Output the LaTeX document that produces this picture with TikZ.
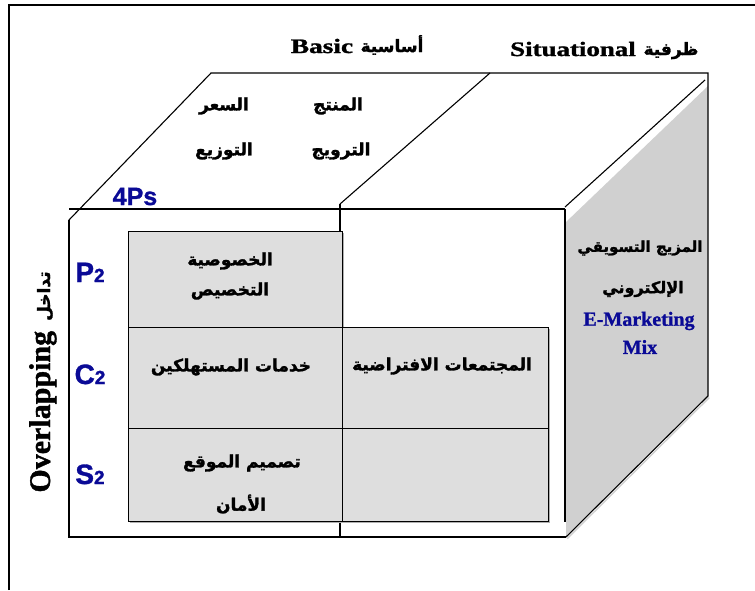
\documentclass[tikz,border=0pt]{standalone}
\usepackage{fontspec}
\usetikzlibrary{calc}
\setmainfont{Liberation Serif}[BoldFeatures={FakeBold=1.2}]
\newfontfamily\labelsans{Liberation Sans}[BoldFeatures={FakeBold=1.2}]
\newfontfamily\arfont[Script=Arabic,BoldFeatures={FakeBold=1.6}]{DejaVu Sans}
\TeXXeTstate=1
\newcommand\artxt[1]{{\arfont\bfseries\beginR #1\endR}}
\newcommand\fsz[1]{\fontsize{#1}{#1}\selectfont}
\definecolor{navyblue}{RGB}{10,10,150}
\definecolor{cellgray}{RGB}{222,222,222}
\definecolor{facegray}{RGB}{208,208,208}
\definecolor{shade}{RGB}{175,175,175}

\begin{document}
\begin{tikzpicture}[x=1pt,y=-1pt,
  frameline/.style={line width=1.6pt},
  edge/.style={line width=1.1pt},
  cellbox/.style={fill=cellgray,draw=black,line width=1.4pt},
  cellshadow/.style={fill=shade,draw=none},
  artext/.style={inner sep=0pt,font=\fsz{17}},
  toplabel/.style={inner sep=0pt,anchor=base,font=\fsz{19.5}\bfseries},
  bluelabel/.style={inner sep=0pt,anchor=base,text=navyblue,font=\labelsans\bfseries},
  mixlabel/.style={inner sep=0pt,text=navyblue,font=\fsz{20}\bfseries}]
\useasboundingbox (0,0) rectangle (755,590);

% outer frame (only its left and top sides fall inside the page)
\coordinate (fTL) at (9,5);
\draw[frameline] (9,590) -- (fTL) -- (755,5);

% cube corners
\coordinate (ftl) at (69,209);   % front face, top left
\coordinate (ftlc) at (69,220);  % front face, chamfered left corner
\coordinate (fbl) at (69,537);   % front face, bottom left
\coordinate (fbr) at (566,537);  % front face, bottom right
\coordinate (ftr) at (565,209);  % front face, top right
\coordinate (fre) at (565,522);  % end of front right edge
\coordinate (btl) at (211,73);   % back, top left
\coordinate (btr) at (708,73);   % back, top right
\coordinate (bbr) at (708,396);  % back, bottom right
\coordinate (midf) at (340,204); % middle divider, front end
\coordinate (midb) at (490,73);  % middle divider, back end
\coordinate (rdf) at (565,207);  % right face diagonal, front end
\coordinate (rdb) at (705,80);   % right face diagonal, back end

% shaded right face
\fill[facegray] (566,222) -- (708,86) -- (bbr) -- (fbr) -- (566,537) -- cycle;
\draw[shade!60,line width=1.4pt] ($(fbr)+(1.2,1.6)$) -- ($(bbr)+(1.2,1.6)$);

% cube edges
\draw[edge] (ftl) -- (ftr);
\draw[edge] (ftlc) -- (fbl) -- (fbr);
\draw[edge] (ftr) -- (fre);
\draw[edge] (ftlc) -- (btl) -- (btr) -- (bbr) -- (fbr);
\draw[edge] (midf) -- (midb);
\draw[edge] (midf) -- (340,537);
\draw[edge] (rdf) -- (rdb);

% grid of gray cells on the front face
\foreach \xa/\ya/\xb/\yb/\nm in {128/231/342/327/cP, 128/327/342/428/cCa, 342/327/548/428/cCb, 128/428/342/521/cSa, 342/428/548/521/cSb}{
  \fill[cellshadow] (\xa+1.5,\ya+1.5) rectangle (\xb+1.5,\yb+1.5);
}
\foreach \xa/\ya/\xb/\yb/\nm in {128/231/342/327/cP, 128/327/342/428/cCa, 342/327/548/428/cCb, 128/428/342/521/cSa, 342/428/548/521/cSb}{
  \node[cellbox,inner sep=0pt,minimum width={\xb-\xa},minimum height={\yb-\ya},anchor=north west] (\nm) at (\xa,\ya) {};
}

% headings above the cube
\node[toplabel] (basic) at (322,53) {\scalebox{1.4}[1.05]{Basic}};
\node[artext,anchor=base] (basicar) at (392,52) {\artxt{أساسية}};
\node[toplabel] (situ) at (573,56) {\scalebox{1.38}[1.05]{Situational}};
\node[artext,anchor=base] (situar) at (671,55) {\artxt{ظرفية}};

% 4Ps on the top face
\node[artext] (price) at (224,106) {\artxt{السعر}};
\node[artext] (product) at (338,106) {\artxt{المنتج}};
\node[artext] (place) at (224,151) {\artxt{التوزيع}};
\node[artext] (promo) at (341,151) {\artxt{الترويج}};
\node[bluelabel,font=\labelsans\bfseries\fsz{25}] (fourps) at (135,205) {4Ps};

% row labels
\node[bluelabel] (p2) at (90,282) {{\fsz{28}P}{\fsz{19}2}};
\node[bluelabel] (c2) at (90,384) {{\fsz{28}C}{\fsz{19}2}};
\node[bluelabel] (s2) at (90,484) {{\fsz{28}S}{\fsz{19}2}};

% vertical side label
\node[inner sep=0pt,anchor=base,rotate=90] (overlap) at (50,382)
  {{\fsz{30}\bfseries Overlapping}\hspace{10pt}{\fsz{17}\artxt{تداخل}}};

% cell contents
\node[artext] (privacy) at (230,261) {\artxt{الخصوصية}};
\node[artext] (custom) at (230,291) {\artxt{التخصيص}};
\node[artext] (service) at (231,367) {\artxt{خدمات المستهلكين}};
\node[artext] (commun) at (442,366) {\artxt{المجتمعات الافتراضية}};
\node[artext] (design) at (242,463) {\artxt{تصميم الموقع}};
\node[artext] (secure) at (241,504) {\artxt{الأمان}};

% right face caption
\node[artext,font=\fsz{15}] (mixar1) at (640,248) {\artxt{المزيج التسويقي}};
\node[artext,font=\fsz{16}] (mixar2) at (643,289) {\artxt{الإلكتروني}};
\node[mixlabel] (emk) at (639,321) {E-Marketing};
\node[mixlabel] (mix) at (640,347) {Mix};
\end{tikzpicture}
\end{document}
